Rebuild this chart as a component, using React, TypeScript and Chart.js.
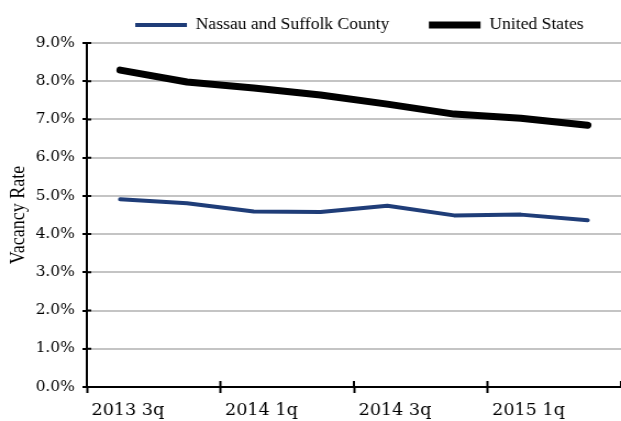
import React, { useEffect, useRef } from 'react';
import { Chart, registerables } from 'chart.js';

Chart.register(...registerables);

// Quarterly vacancy rates, in percent
const quarters = ['2013 3q', '2013 4q', '2014 1q', '2014 2q', '2014 3q', '2014 4q', '2015 1q', '2015 2q'];
const nassauSuffolk = [4.91, 4.81, 4.59, 4.58, 4.74, 4.49, 4.51, 4.36];
const unitedStates = [8.29, 7.98, 7.82, 7.64, 7.40, 7.14, 7.03, 6.85];
const rateTicks = [0, 1, 2, 3, 4, 5, 6, 7, 8, 9];

// The drawing surface is rendered narrower and widened by CSS,
// which gives the wide-set lettering of the printed report.
const DRAW_W = 565;
const VIEW_W = 621;
const VIEW_H = 421;

const NUM_FONT = 'DejaVu Serif';
const TEXT_FONT = 'Liberation Serif';
const NAVY = '#1f3d78';

// Short black stubs on the inner side of both axes, plus legend placement.
const axisStubs = {
  id: 'axisStubs',
  afterLayout(chart: any) {
    const lg = chart.legend;
    if (lg) {
      lg.left = 69;
      lg.right = 585;
    }
  },
  afterDraw(chart: any) {
    const { ctx, scales } = chart;
    const x = scales.x;
    const y = scales.y;
    ctx.save();
    ctx.strokeStyle = '#000';
    ctx.lineWidth = 2;
    ctx.beginPath();
    y.ticks.forEach((_: any, i: number) => {
      const py = y.getPixelForTick(i);
      ctx.moveTo(x.left, py);
      ctx.lineTo(x.left + 4, py);
    });
    for (let i = 0; i <= quarters.length; i += 2) {
      const px = x.getPixelForValue(i - 0.5);
      ctx.moveTo(px, y.bottom);
      ctx.lineTo(px, y.bottom - 6);
    }
    ctx.stroke();
    ctx.restore();
  },
};

export default function App() {
  const canvasRef = useRef<HTMLCanvasElement | null>(null);

  useEffect(() => {
    document.body.style.margin = '0';
    const canvas = canvasRef.current;
    if (!canvas) return;

    const chart = new Chart(canvas, {
      type: 'line',
      data: {
        labels: quarters,
        datasets: [
          {
            label: 'Nassau and Suffolk County',
            data: nassauSuffolk,
            borderColor: NAVY,
            backgroundColor: NAVY,
            borderWidth: 4,
            pointRadius: 0,
            borderCapStyle: 'round',
            borderJoinStyle: 'round',
            tension: 0,
          },
          {
            label: 'United States',
            data: unitedStates,
            borderColor: '#000',
            backgroundColor: '#000',
            borderWidth: 7,
            pointRadius: 0,
            borderCapStyle: 'round',
            borderJoinStyle: 'round',
            tension: 0,
          },
        ],
      },
      options: {
        responsive: false,
        animation: false,
        devicePixelRatio: 1,
        layout: { padding: { top: -26, left: 0, right: 0, bottom: 0 } },
        plugins: {
          legend: {
            position: 'top',
            labels: {
              usePointStyle: true,
              pointStyle: 'line',
              pointStyleWidth: 47,
              padding: 36,
              color: '#000',
              font: { family: TEXT_FONT, size: 16 },
            },
          },
          tooltip: { enabled: false },
        },
        scales: {
          x: {
            type: 'category',
            offset: true,
            grid: {
              offset: true,
              drawOnChartArea: false,
              tickLength: 6,
              tickWidth: 2,
              tickColor: (c: any) => (c.index % 2 === 0 ? '#000' : 'rgba(0,0,0,0)'),
            },
            border: { color: '#000', width: 2 },
            ticks: {
              autoSkip: false,
              maxRotation: 0,
              padding: 8,
              labelOffset: 7,
              color: '#000',
              font: { family: NUM_FONT, size: 16 },
              callback: (_v: any, i: number) => (i % 2 === 0 ? quarters[i] : ''),
            },
            afterFit: (s: any) => {
              s.height = 34;
              s.paddingLeft = 0;
              s.paddingRight = 0;
            },
          },
          y: {
            min: rateTicks[0],
            max: rateTicks[rateTicks.length - 1],
            ticks: {
              stepSize: 1,
              padding: 7,
              color: '#000',
              font: { family: NUM_FONT, size: 14 },
              callback: (v: any) => `${Number(v).toFixed(1)}%`,
            },
            grid: {
              color: '#c4c4c4',
              lineWidth: 2,
              tickLength: 4,
              tickColor: '#000',
              tickWidth: 2,
            },
            border: { color: '#000', width: 2 },
            title: {
              display: true,
              text: 'Vacancy Rate',
              color: '#000',
              font: { family: TEXT_FONT, size: 18 },
              padding: { top: 6, bottom: 0 },
            },
            afterFit: (s: any) => {
              s.width = 79;
              s.paddingTop = 43;
            },
          },
        },
      },
      plugins: [axisStubs],
    } as any);

    return () => chart.destroy();
  }, []);

  return (
    <canvas
      ref={canvasRef}
      width={DRAW_W}
      height={VIEW_H}
      style={{ display: 'block', width: `${VIEW_W}px`, height: `${VIEW_H}px` }}
    />
  );
}
